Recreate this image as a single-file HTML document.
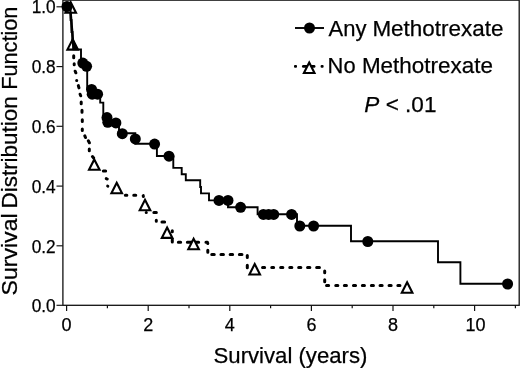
<!DOCTYPE html>
<html><head><meta charset="utf-8"><style>
html,body{margin:0;padding:0;background:#fff;}
svg{display:block;will-change:transform;}
text{font-family:"Liberation Sans",sans-serif;fill:#000;stroke:#000;stroke-width:0.25;}
</style></head><body>
<svg width="520" height="368" viewBox="0 0 520 368">
<rect width="520" height="368" fill="#fff"/>
<rect x="62.9" y="0.15" width="456.3" height="305.15" fill="none" stroke="#111" stroke-width="1.3"/>
<line x1="56.5" x2="62.8" y1="305.3" y2="305.3" stroke="#111" stroke-width="1.15"/>
<text x="55.7" y="312.2" text-anchor="end" font-size="18" textLength="24" lengthAdjust="spacingAndGlyphs">0.0</text>
<line x1="56.5" x2="62.8" y1="245.8" y2="245.8" stroke="#111" stroke-width="1.15"/>
<text x="55.7" y="252.5" text-anchor="end" font-size="18" textLength="24" lengthAdjust="spacingAndGlyphs">0.2</text>
<line x1="56.5" x2="62.8" y1="186.1" y2="186.1" stroke="#111" stroke-width="1.15"/>
<text x="55.7" y="192.7" text-anchor="end" font-size="18" textLength="24" lengthAdjust="spacingAndGlyphs">0.4</text>
<line x1="56.5" x2="62.8" y1="126.3" y2="126.3" stroke="#111" stroke-width="1.15"/>
<text x="55.7" y="133.0" text-anchor="end" font-size="18" textLength="24" lengthAdjust="spacingAndGlyphs">0.6</text>
<line x1="56.5" x2="62.8" y1="66.6" y2="66.6" stroke="#111" stroke-width="1.15"/>
<text x="55.7" y="73.2" text-anchor="end" font-size="18" textLength="24" lengthAdjust="spacingAndGlyphs">0.8</text>
<line x1="56.5" x2="62.8" y1="6.8" y2="6.8" stroke="#111" stroke-width="1.15"/>
<text x="55.7" y="13.4" text-anchor="end" font-size="18" textLength="24" lengthAdjust="spacingAndGlyphs">1.0</text>
<line x1="66.6" x2="66.6" y1="305.3" y2="311" stroke="#111" stroke-width="1.2"/>
<text x="66.6" y="331" text-anchor="middle" font-size="18">0</text>
<line x1="107.4" x2="107.4" y1="305.3" y2="308.3" stroke="#111" stroke-width="1.2"/>
<line x1="148.2" x2="148.2" y1="305.3" y2="311" stroke="#111" stroke-width="1.2"/>
<text x="148.2" y="331" text-anchor="middle" font-size="18">2</text>
<line x1="189.0" x2="189.0" y1="305.3" y2="308.3" stroke="#111" stroke-width="1.2"/>
<line x1="229.8" x2="229.8" y1="305.3" y2="311" stroke="#111" stroke-width="1.2"/>
<text x="229.8" y="331" text-anchor="middle" font-size="18">4</text>
<line x1="270.6" x2="270.6" y1="305.3" y2="308.3" stroke="#111" stroke-width="1.2"/>
<line x1="311.4" x2="311.4" y1="305.3" y2="311" stroke="#111" stroke-width="1.2"/>
<text x="311.4" y="331" text-anchor="middle" font-size="18">6</text>
<line x1="352.2" x2="352.2" y1="305.3" y2="308.3" stroke="#111" stroke-width="1.2"/>
<line x1="393.0" x2="393.0" y1="305.3" y2="311" stroke="#111" stroke-width="1.2"/>
<text x="393.0" y="331" text-anchor="middle" font-size="18">8</text>
<line x1="433.8" x2="433.8" y1="305.3" y2="308.3" stroke="#111" stroke-width="1.2"/>
<line x1="474.6" x2="474.6" y1="305.3" y2="311" stroke="#111" stroke-width="1.2"/>
<text x="475.4" y="331" text-anchor="middle" font-size="18">10</text>
<line x1="515.4" x2="515.4" y1="305.3" y2="308.3" stroke="#111" stroke-width="1.2"/>
<path d="M73.70,55.85 L73.70,57.65 M74.20,63.65 L74.20,64.65 M75.15,71.23 L75.85,72.77 M76.65,80.60 L76.75,80.60 M78.35,85.60 L78.95,87.90 M80.10,94.25 L80.70,95.75 M81.20,101.95 L81.20,103.65 M82.00,110.35 L82.00,112.15 M82.30,119.65 L82.30,121.45 M82.30,129.05 L82.30,130.45 M84.81,135.85 L85.49,137.55 M88.33,140.80 L89.37,142.80 M89.30,148.95 L89.30,150.85 M92.46,156.54 L93.64,157.96 M103.35,171.00 L105.65,171.00 M106.27,178.67 L107.23,179.03 M107.70,186.14 L107.80,186.16 M125.35,195.30 L126.85,195.30 M133.75,195.30 L135.75,195.30 M143.23,195.63 L143.37,196.47 M146.20,212.50 L146.30,212.50 M153.85,212.50 L156.35,212.50 M156.30,220.35 L156.30,221.25 M161.95,222.00 L164.65,222.00 M172.30,230.85 L172.30,231.65 M172.30,239.55 L172.30,242.05 M178.35,242.20 L180.65,242.20 M187.35,242.20 L198.65,242.20 M205.95,242.20 L207.45,242.20 M207.80,243.30 L207.80,243.40 M207.80,250.35 L207.80,252.25 M211.75,254.50 L214.25,254.50 M220.95,254.50 L223.45,254.50 M230.15,254.50 L232.65,254.50 M239.35,254.50 L241.95,254.50 M247.30,255.45 L247.30,257.45 M247.30,265.35 L247.30,267.65 M262.55,267.60 L264.65,267.60 M271.75,267.60 L273.65,267.60 M280.65,267.60 L282.85,267.60 M289.75,267.60 L291.85,267.60 M298.65,267.60 L300.85,267.60 M307.55,267.60 L309.85,267.60 M316.65,267.60 L319.45,267.60 M324.70,270.95 L324.70,272.85 M324.70,279.75 L324.70,281.85 M326.55,285.60 L328.65,285.60 M335.75,285.60 L337.85,285.60 M344.35,285.60 L346.45,285.60 M353.45,285.60 L355.55,285.60 M362.35,285.60 L364.45,285.60 M371.35,285.60 L373.45,285.60 M380.05,285.60 L382.15,285.60 M389.05,285.60 L391.15,285.60 M397.85,285.60 L399.95,285.60" fill="none" stroke="#000" stroke-width="3.0" stroke-linecap="round"/>
<path d="M70.7,2.3 L76.0,12.7 L65.4,12.7 Z" fill="#fff" stroke="#000" stroke-width="2.1" stroke-linejoin="miter"/>
<path d="M72.7,39.2 L78.0,49.6 L67.4,49.6 Z" fill="#fff" stroke="#000" stroke-width="2.1" stroke-linejoin="miter"/>
<path d="M94.3,159.4 L99.6,169.8 L89.0,169.8 Z" fill="#fff" stroke="#000" stroke-width="2.1" stroke-linejoin="miter"/>
<path d="M116.7,182.8 L122.0,193.2 L111.4,193.2 Z" fill="#fff" stroke="#000" stroke-width="2.1" stroke-linejoin="miter"/>
<path d="M145.0,199.8 L150.3,210.2 L139.7,210.2 Z" fill="#fff" stroke="#000" stroke-width="2.1" stroke-linejoin="miter"/>
<path d="M167.1,227.5 L172.4,237.9 L161.8,237.9 Z" fill="#fff" stroke="#000" stroke-width="2.1" stroke-linejoin="miter"/>
<path d="M193.6,238.8 L198.9,249.2 L188.3,249.2 Z" fill="#fff" stroke="#000" stroke-width="2.1" stroke-linejoin="miter"/>
<path d="M254.7,264.1 L260.0,274.5 L249.4,274.5 Z" fill="#fff" stroke="#000" stroke-width="2.1" stroke-linejoin="miter"/>
<path d="M407.1,282.3 L412.4,292.7 L401.8,292.7 Z" fill="#fff" stroke="#000" stroke-width="2.1" stroke-linejoin="miter"/>
<line x1="70.6" y1="13" x2="73.6" y2="49" stroke="#000" stroke-width="2.5"/>
<path d="M72.6,38 L78,49.6 L73.2,49.6 Z" fill="#000"/>
<path d="M67.0,6.5 L70.6,6.5 L70.6,20.0 L71.5,20.0 L71.5,32.0 L72.5,32.0 L72.5,42.0 L73.5,42.0 L73.5,49.4 L81.0,49.4 L81.0,63.0 L87.2,63.0 L87.2,66.0 L87.2,89.4 L91.6,89.4 L91.6,94.2 L100.2,94.2 L100.2,102.6 L103.3,102.6 L103.3,117.6 L107.5,117.6 L107.5,122.6 L116.0,122.6 L119.0,122.6 L119.0,133.2 L135.3,133.2 L135.3,139.0 L135.3,143.8 L156.9,143.8 L156.9,156.0 L173.3,156.0 L173.3,167.9 L181.7,167.9 L181.7,174.2 L185.8,174.2 L185.8,180.2 L200.2,180.2 L200.2,187.0 L201.0,187.0 L201.0,193.4 L209.0,193.4 L209.0,200.4 L228.0,200.4 L228.0,207.3 L257.6,207.3 L257.6,214.3 L297.0,214.3 L297.0,225.8 L351.0,225.8 L351.0,241.3 L438.0,241.3 L438.0,262.3 L460.4,262.3 L460.4,283.8 L507.6,283.8" fill="none" stroke="#000" stroke-width="1.9" stroke-linejoin="miter"/>
<circle cx="67" cy="6.5" r="5.5" fill="#000"/>
<circle cx="82.8" cy="63.1" r="5.5" fill="#000"/>
<circle cx="86.6" cy="66.3" r="5.5" fill="#000"/>
<circle cx="91.6" cy="89.4" r="5.5" fill="#000"/>
<circle cx="92.2" cy="94.2" r="5.5" fill="#000"/>
<circle cx="97.6" cy="94.2" r="5.5" fill="#000"/>
<circle cx="107" cy="117.6" r="5.5" fill="#000"/>
<circle cx="107.8" cy="122.3" r="5.5" fill="#000"/>
<circle cx="115.9" cy="122.9" r="5.5" fill="#000"/>
<circle cx="122.3" cy="133.7" r="5.5" fill="#000"/>
<circle cx="135.3" cy="138.9" r="5.5" fill="#000"/>
<circle cx="154.6" cy="144.1" r="5.5" fill="#000"/>
<circle cx="169" cy="156.2" r="5.5" fill="#000"/>
<circle cx="219" cy="200.4" r="5.5" fill="#000"/>
<circle cx="228" cy="200.4" r="5.5" fill="#000"/>
<circle cx="240.6" cy="207.3" r="5.5" fill="#000"/>
<circle cx="263.4" cy="214.4" r="5.5" fill="#000"/>
<circle cx="268.6" cy="214.4" r="5.5" fill="#000"/>
<circle cx="273.7" cy="214.4" r="5.5" fill="#000"/>
<circle cx="291.6" cy="214.4" r="5.5" fill="#000"/>
<circle cx="299.8" cy="226" r="5.5" fill="#000"/>
<circle cx="313.6" cy="226" r="5.5" fill="#000"/>
<circle cx="367.8" cy="241.5" r="5.5" fill="#000"/>
<circle cx="507.6" cy="284" r="5.5" fill="#000"/>
<line x1="295" x2="324" y1="28" y2="28" stroke="#000" stroke-width="1.9"/>
<circle cx="309.5" cy="28" r="5.5" fill="#000"/>
<rect x="294" y="65.1" width="3" height="2.7" rx="1" fill="#000"/>
<rect x="320.6" y="65.1" width="3" height="2.7" rx="1" fill="#000"/>
<line x1="303.3" x2="314.1" y1="66.4" y2="66.4" stroke="#000" stroke-width="2.7" stroke-linecap="round"/>
<path d="M309.2,62.6 L314.5,73.0 L303.9,73.0 Z" fill="#fff" stroke="#000" stroke-width="2.1" stroke-linejoin="miter"/>
<text x="328.6" y="35.7" font-size="22.8" textLength="37.9" lengthAdjust="spacingAndGlyphs">Any</text>
<text x="372.4" y="35.7" font-size="22.8" textLength="131" lengthAdjust="spacingAndGlyphs">Methotrexate</text>
<text x="327.6" y="73.3" font-size="22.8" textLength="28" lengthAdjust="spacingAndGlyphs">No</text>
<text x="361.9" y="73.3" font-size="22.8" textLength="131" lengthAdjust="spacingAndGlyphs">Methotrexate</text>
<text x="364.3" y="112" font-size="22.8" textLength="72.2" lengthAdjust="spacingAndGlyphs"><tspan font-style="italic">P</tspan> &lt; .01</text>
<text x="213.6" y="362.6" font-size="22.8" textLength="153.8" lengthAdjust="spacingAndGlyphs">Survival (years)</text>
<text transform="translate(16.7,295.4) rotate(-90)" font-size="22.8" textLength="82" lengthAdjust="spacingAndGlyphs">Survival</text>
<text transform="translate(16.7,208.5) rotate(-90)" font-size="22.8" textLength="112.2" lengthAdjust="spacingAndGlyphs">Distribution</text>
<text transform="translate(16.7,89.8) rotate(-90)" font-size="22.8" textLength="83.2" lengthAdjust="spacingAndGlyphs">Function</text>
</svg>
</body></html>
